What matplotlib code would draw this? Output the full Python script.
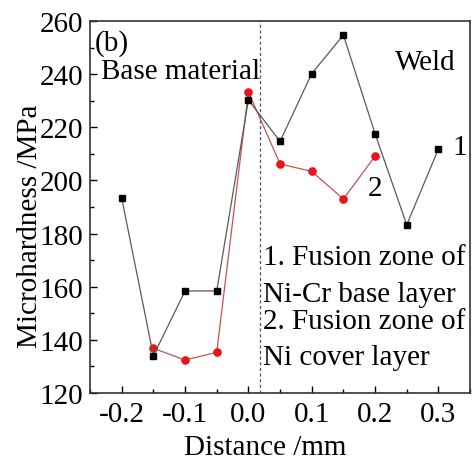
import matplotlib.pyplot as plt
from matplotlib.ticker import MultipleLocator

plt.rcParams['font.family'] = ['Liberation Serif', 'DejaVu Serif']

# data
dist_1 = [-0.2, -0.15, -0.1, -0.05, 0.0, 0.05, 0.1, 0.15, 0.2, 0.25, 0.3]
hard_1 = [193.3, 134.0, 158.4, 158.4, 230.3, 214.7, 240.2, 254.7, 217.6, 183.3, 211.8]
dist_2 = [-0.15, -0.1, -0.05, 0.0, 0.05, 0.1, 0.15, 0.2]
hard_2 = [136.8, 132.4, 135.3, 233.3, 206.2, 203.4, 193.0, 209.1]
boundary_x = 0.018
xtick_vals = [-0.2, -0.1, 0.0, 0.1, 0.2, 0.3]
xtick_labels = ['-0.2', '-0.1', '0.0', '0.1', '0.2', '0.3']

fs = 21

fig = plt.figure(figsize=(4.74, 4.60), dpi=100)
ax = fig.add_axes([0.190, 0.1435, 0.8017, 0.8087])

ax.plot(dist_1, hard_1, color='#5a5a5a', lw=0.9, marker='s', ms=4.6,
        mfc='black', mec='black', zorder=3)
ax.plot(dist_2, hard_2, color='#cc5050', lw=0.9, marker='o', ms=5.2,
        mfc='#e8141c', mec='#e8141c', zorder=2)
ax.axvline(boundary_x, color='#555555', lw=0.9, ls=(0, (2.5, 2)), zorder=1)

ax.set_xlim(-0.25, 0.35)
ax.set_ylim(120, 260)
ax.xaxis.set_minor_locator(MultipleLocator(0.05))
ax.yaxis.set_major_locator(MultipleLocator(20))
ax.yaxis.set_minor_locator(MultipleLocator(10))
ax.set_xticks(xtick_vals)
ax.set_xticklabels(xtick_labels)
ax.tick_params(which='both', direction='in', labelsize=fs)
ax.tick_params(axis='y', pad=5)
ax.tick_params(axis='x', pad=6)
ax.tick_params(which='major', length=5, width=1)
ax.tick_params(which='minor', length=3, width=1)
for s in ax.spines.values():
    s.set_linewidth(1.2)
    s.set_color('#333333')

ax.set_xlabel('Distance /mm', fontsize=fs, va='center')
ax.xaxis.set_label_coords(0.46, -0.145)
ax.set_ylabel('Microhardness /MPa', fontsize=fs, va='center')
ax.yaxis.set_label_coords(-0.158, 0.452)

ax.text(-0.243, 252, '(b)', fontsize=fs, va='center')
ax.text(-0.232, 241.2, 'Base material', fontsize=fs, va='center')
ax.text(0.231, 244.5, 'Weld', fontsize=fs, va='center')
ax.text(0.322, 212.6, '1', fontsize=fs, va='center')
ax.text(0.188, 197, '2', fontsize=fs, va='center')
ax.text(0.0224, 171.2, '1. Fusion zone of', fontsize=fs, va='center')
ax.text(0.0224, 157.3, 'Ni-Cr base layer', fontsize=fs, va='center')
ax.text(0.0224, 147.1, '2. Fusion zone of', fontsize=fs, va='center')
ax.text(0.0224, 133.5, 'Ni cover layer', fontsize=fs, va='center')

fig.savefig('out.png', dpi=100)
